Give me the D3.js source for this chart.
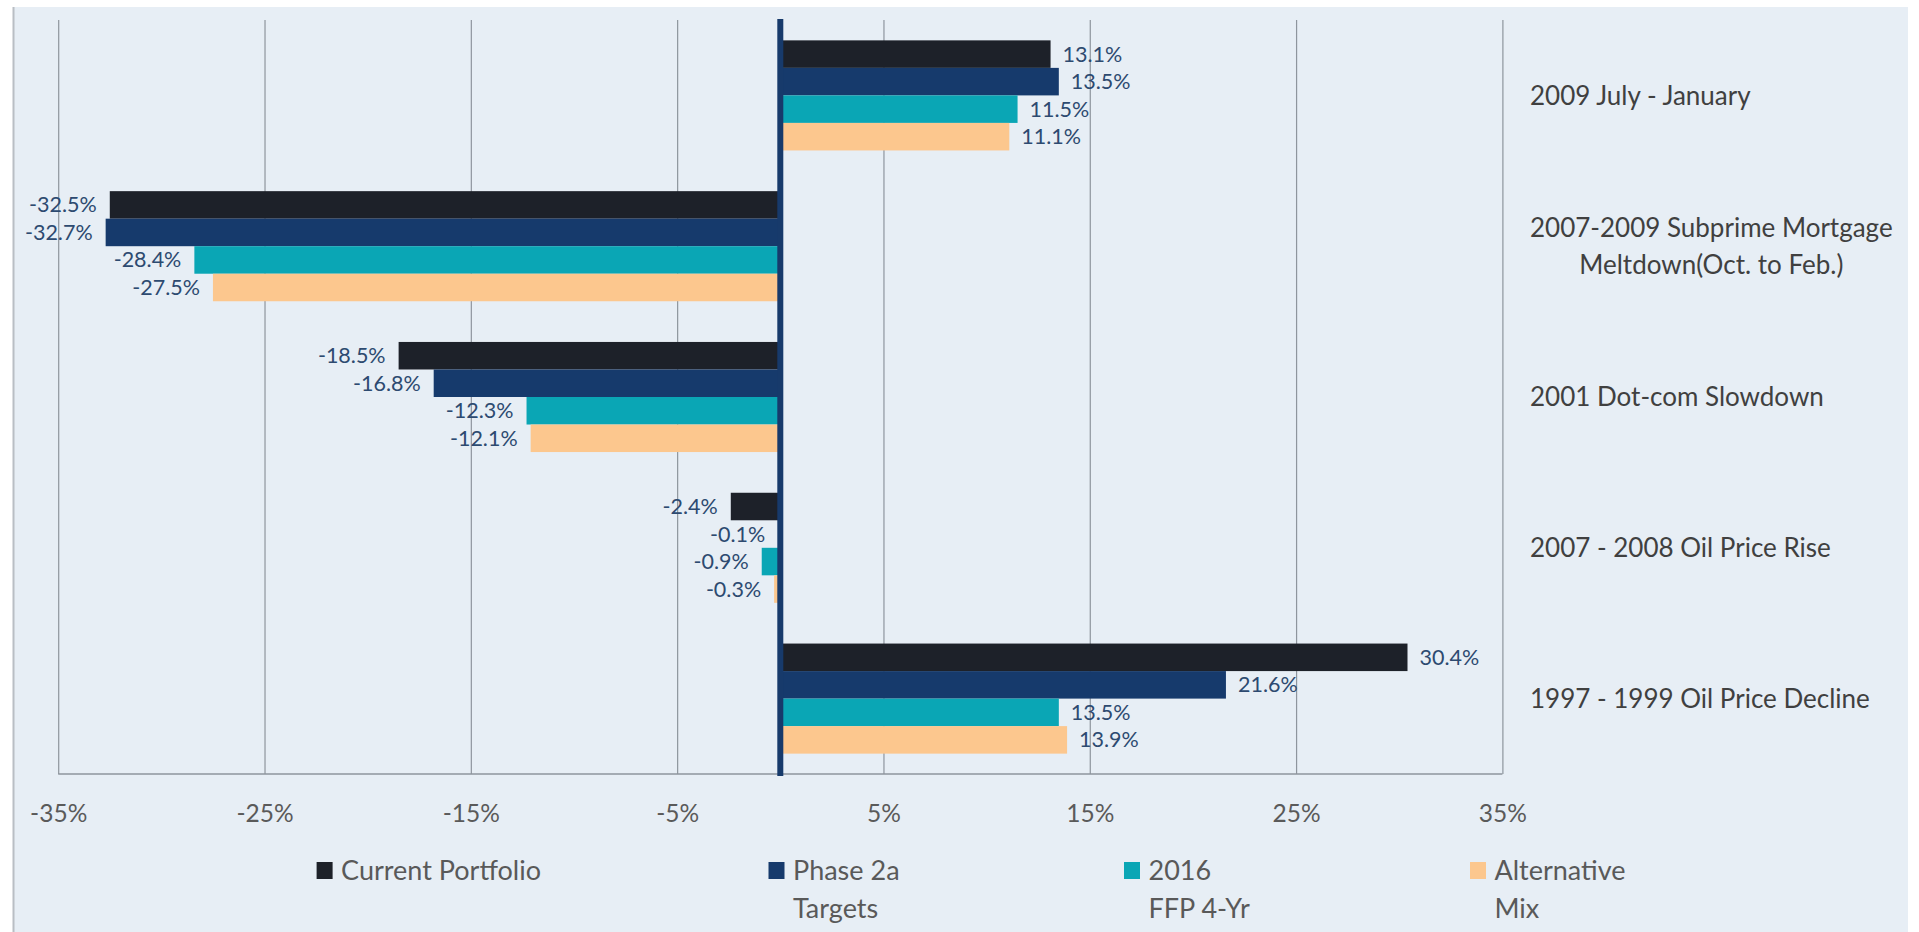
<!DOCTYPE html>
<html>
<head>
<meta charset="utf-8">
<script src="https://cdn.jsdelivr.net/npm/d3@7"></script>
<style>
  html, body { margin: 0; padding: 0; background: #ffffff; }
  svg { display: block; }
  text { font-family: Lato, "Open Sans", sans-serif; }
</style>
</head>
<body>
<svg id="chart" width="1919" height="932"></svg>
<script>
// ---------- data ----------
const categories = [
  "2009 July - January",
  "2007-2009 Subprime Mortgage\nMeltdown(Oct. to Feb.)",
  "2001 Dot-com Slowdown",
  "2007 - 2008 Oil Price Rise",
  "1997 - 1999 Oil Price Decline"
];
const seriesNames = ["Current Portfolio", "Phase 2a\nTargets", "2016\nFFP 4-Yr", "Alternative\nMix"];
const currentPortfolio = [13.1, -32.5, -18.5, -2.4, 30.4];
const phase2aTargets   = [13.5, -32.7, -16.8, -0.1, 21.6];
const ffp2016          = [11.5, -28.4, -12.3, -0.9, 13.5];
const alternativeMix   = [11.1, -27.5, -12.1, -0.3, 13.9];
const tickValues = [-35, -25, -15, -5, 5, 15, 25, 35];
const tickLabels = ["-35%", "-25%", "-15%", "-5%", "5%", "15%", "25%", "35%"];

// ---------- styles / layout ----------
const seriesColors = ["#1d2129", "#163a6c", "#0aa6b5", "#fcc78e"];
const seriesValues = [currentPortfolio, phase2aTargets, ffp2016, alternativeMix];
const W = 1919, H = 932;
const plot = { left: 58.2, right: 1502.4, top: 20, bottom: 774 };
const legendX = [316.6, 768.5, 1124, 1470];

const svg = d3.select("#chart");

// background panel
svg.append("rect").attr("x", 13).attr("y", 7).attr("width", 1895).attr("height", H - 7)
  .attr("fill", "#e7eef5");
svg.append("line").attr("x1", 13.5).attr("x2", 13.5).attr("y1", 7).attr("y2", H)
  .attr("stroke", "#b9bec4").attr("stroke-width", 2);

const x = d3.scaleLinear().domain([-35, 35]).range([plot.left, plot.right]);
const y = d3.scaleBand().domain(d3.range(categories.length))
  .range([plot.top, plot.bottom]).paddingInner(0.27).paddingOuter(0.135);
const ySub = d3.scaleBand().domain(d3.range(seriesNames.length)).range([0, y.bandwidth()]);

// gridlines via axis
const grid = svg.append("g")
  .attr("transform", `translate(0,${plot.bottom})`)
  .call(d3.axisBottom(x).tickValues(tickValues).tickSize(-(plot.bottom - plot.top)).tickFormat(""));
grid.select(".domain").remove();
grid.selectAll(".tick line").attr("stroke", "#8e959d").attr("stroke-width", 1.2);

// bottom axis line
svg.append("line").attr("x1", plot.left).attr("x2", plot.right)
  .attr("y1", plot.bottom).attr("y2", plot.bottom)
  .attr("stroke", "#8e959d").attr("stroke-width", 1.5);

// tick labels
const axisLab = svg.append("g")
  .attr("transform", `translate(0,${plot.bottom})`)
  .call(d3.axisBottom(x).tickValues(tickValues).tickSize(0).tickPadding(0)
    .tickFormat((d, i) => tickLabels[i]));
axisLab.select(".domain").remove();
axisLab.selectAll(".tick text")
  .attr("y", 39).attr("dy", "0.35em")
  .attr("font-size", 24.5).attr("fill", "#5a5a5a")
  .style("font-family", "Lato, sans-serif");

// bars
const rows = [];
categories.forEach((c, ci) => {
  seriesValues.forEach((vals, si) => rows.push({ ci, si, v: vals[ci] }));
});

svg.append("g").selectAll("rect").data(rows).join("rect")
  .attr("x", d => x(Math.min(0, d.v)))
  .attr("width", d => Math.abs(x(d.v) - x(0)))
  .attr("y", d => y(d.ci) + ySub(d.si))
  .attr("height", ySub.bandwidth())
  .attr("fill", d => seriesColors[d.si]);

// zero axis line
svg.append("line").attr("x1", x(0)).attr("x2", x(0))
  .attr("y1", plot.top - 1).attr("y2", plot.bottom + 2)
  .attr("stroke", "#173a6b").attr("stroke-width", 6);

// value labels
svg.append("g").selectAll("text").data(rows).join("text")
  .attr("x", d => d.v >= 0 ? x(d.v) + 12 : x(d.v) - 13)
  .attr("y", d => y(d.ci) + ySub(d.si) + ySub.bandwidth() / 2)
  .attr("dy", "0.35em")
  .attr("text-anchor", d => d.v >= 0 ? "start" : "end")
  .attr("font-size", 21.5)
  .attr("fill", "#2d4a70")
  .text(d => d.v.toFixed(1) + "%");

// category labels
const catFont = 26;
const catG = svg.append("g");
categories.forEach((c, ci) => {
  const lines = c.split("\n");
  const cy = y(ci) + y.bandwidth() / 2;
  const t = catG.append("text")
    .attr("font-size", catFont).attr("fill", "#404040");
  if (lines.length === 1) {
    t.attr("x", 1530).attr("y", cy).attr("dy", "0.35em").text(c);
  } else {
    const tmp = catG.append("text").attr("font-size", catFont).text(lines[0]);
    const w = tmp.node().getComputedTextLength();
    tmp.remove();
    t.attr("text-anchor", "middle");
    lines.forEach((ln, li) => {
      t.append("tspan").attr("x", 1530 + w / 2)
        .attr("y", cy + (li - (lines.length - 1) / 2) * 36.7)
        .attr("dy", "0.35em").text(ln);
    });
  }
});

// legend
const lg = svg.append("g");
seriesNames.forEach((name, si) => {
  const lx = legendX[si];
  lg.append("rect").attr("x", lx).attr("y", 862).attr("width", 16).attr("height", 17)
    .attr("fill", seriesColors[si]);
  const lines = name.split("\n");
  const t = lg.append("text").attr("font-size", 27).attr("fill", "#595959");
  lines.forEach((ln, li) => {
    t.append("tspan").attr("x", lx + 24.5).attr("y", 870.7 + li * 37.6)
      .attr("dy", "0.35em").text(ln);
  });
});
</script>
</body>
</html>
